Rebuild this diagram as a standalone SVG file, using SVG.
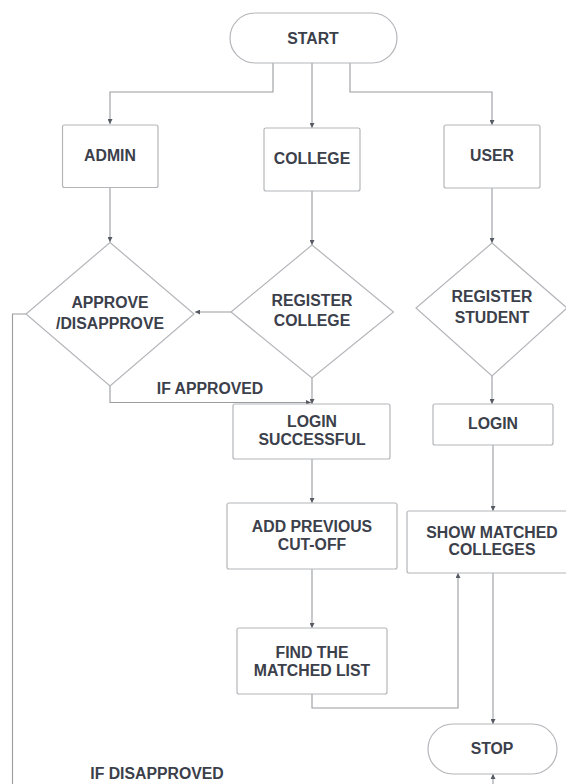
<svg xmlns="http://www.w3.org/2000/svg" width="566" height="784" viewBox="0 0 566 784">
<defs>
<marker id="ah" viewBox="0 0 8 8" refX="8" refY="4" markerWidth="5" markerHeight="5" orient="auto" markerUnits="userSpaceOnUse">
<path d="M0,0 L8,4 L0,8 z" fill="#555a63"/>
</marker>
<style>
.n{fill:#ffffff;stroke:#b4b6ba;stroke-width:1.2}
.t{font-family:"Liberation Sans",Arial,sans-serif;font-weight:bold;font-size:15.8px;fill:#3b404b;text-anchor:middle;dominant-baseline:central}
.c{fill:none;stroke:#9a9ca0;stroke-width:1.1}
.a{marker-end:url(#ah)}
</style>
</defs>
<rect width="566" height="784" fill="#ffffff"/>
<g id="connectors">
<path class="c a" d="M273,63 V92 H110 V124"/>
<path class="c a" d="M312,63 V128"/>
<path class="c a" d="M350,63 V92 H492 V125"/>
<path class="c a" d="M110,188 V242"/>
<path class="c a" d="M312,191 V245"/>
<path class="c a" d="M492,188 V243"/>
<path class="c a" d="M231,312 H195"/>
<path class="c" d="M26,314 H12.5 V784"/>
<path class="c a" d="M110,386 V402.5 H311"/>
<path class="c a" d="M312,378 V404"/>
<path class="c a" d="M492,376 V404"/>
<path class="c a" d="M312,459 V503"/>
<path class="c a" d="M493,445 V511"/>
<path class="c a" d="M312,569 V628"/>
<path class="c a" d="M312,694 V708 H458 V573"/>
<path class="c a" d="M493,573 V724"/>
<path class="c a" d="M493,784 V774"/>
</g>
<g id="start"><rect class="n" x="230" y="13" width="167" height="50" rx="25"/><text class="t" x="313" y="38">START</text></g>
<g id="admin"><rect class="n" x="62.5" y="125" width="95.5" height="62.5" rx="2"/><text class="t" x="110" y="155">ADMIN</text></g>
<g id="college"><rect class="n" x="264" y="128" width="96" height="63" rx="2"/><text class="t" x="312" y="158">COLLEGE</text></g>
<g id="user"><rect class="n" x="444" y="125" width="96" height="63" rx="2"/><text class="t" x="492" y="155">USER</text></g>
<g id="approve"><path class="n" d="M110,242.5 L194,314 L110,386 L26,314 Z"/><text class="t" x="110" y="302">APPROVE</text><text class="t" x="110" y="323">/DISAPPROVE</text></g>
<g id="register-college"><path class="n" d="M312,245 L393.5,312 L312,378 L231,312 Z"/><text class="t" x="312" y="300">REGISTER</text><text class="t" x="312" y="320">COLLEGE</text></g>
<g id="register-student"><path class="n" d="M492,243 L567,308 L492,376 L416,308 Z"/><text class="t" x="492" y="296">REGISTER</text><text class="t" x="492" y="317">STUDENT</text></g>
<g id="login-successful"><rect class="n" x="233" y="404" width="157" height="55" rx="2"/><text class="t" x="312" y="421">LOGIN</text><text class="t" x="312" y="439">SUCCESSFUL</text></g>
<g id="login"><rect class="n" x="433" y="404" width="120" height="41" rx="2"/><text class="t" x="493" y="423">LOGIN</text></g>
<g id="add-cutoff"><rect class="n" x="227" y="503" width="170" height="66" rx="2"/><text class="t" x="312" y="526">ADD PREVIOUS</text><text class="t" x="312" y="544">CUT-OFF</text></g>
<g id="show-matched"><rect class="n" x="407" y="511" width="172" height="62" rx="2"/><text class="t" x="492" y="532">SHOW MATCHED</text><text class="t" x="492" y="549">COLLEGES</text></g>
<g id="find-matched"><rect class="n" x="237" y="628" width="150" height="66" rx="2"/><text class="t" x="312" y="652">FIND THE</text><text class="t" x="312" y="670">MATCHED LIST</text></g>
<g id="stop"><rect class="n" x="428" y="724" width="129" height="50" rx="25"/><text class="t" x="492" y="748">STOP</text></g>
<g id="labels"><text class="t" x="210" y="388">IF APPROVED</text><text class="t" x="157" y="773">IF DISAPPROVED</text></g>
</svg>
